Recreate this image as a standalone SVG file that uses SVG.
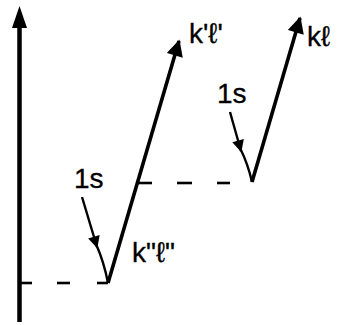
<svg xmlns="http://www.w3.org/2000/svg" width="339" height="325" viewBox="0 0 339 325">
<style>
.lbl{font-family:"Liberation Sans",Arial,sans-serif;font-size:28px;fill:#000;stroke:#000;stroke-width:0.3}
.v{stroke:#000;stroke-width:3.6;fill:none;stroke-linecap:butt}
.s{stroke:#000;stroke-width:2.4;fill:none}
.d{stroke:#000;stroke-width:2.6}
</style>
<defs>
<marker id="ah" viewBox="0 0 10 10" refX="9" refY="5" markerWidth="5.2" markerHeight="4.6" markerUnits="strokeWidth" orient="auto">
<path d="M0,0 L10,5 L0,10 Z" fill="#000"/>
</marker>
<marker id="ahs" viewBox="0 0 10 10" refX="9" refY="5" markerWidth="7" markerHeight="5" markerUnits="strokeWidth" orient="auto">
<path d="M0,0 L10,5 L0,10 Z" fill="#000"/>
</marker>
</defs>
<g id="axis">
<line x1="19.5" y1="322" x2="19.5" y2="26" stroke="#000" stroke-width="4.5"/>
<polygon points="19.5,6 12,28 27,28" fill="#000"/>
</g>
<g id="connectors">
<g id="levels">
<line class="d" x1="20" y1="283" x2="32" y2="283"/>
<line class="d" x1="57" y1="283" x2="70" y2="283"/>
<line class="d" x1="97" y1="283" x2="108" y2="283"/>
<line class="d" x1="137" y1="183" x2="152" y2="183"/>
<line class="d" x1="177" y1="183" x2="192" y2="183"/>
<line class="d" x1="217" y1="183" x2="230" y2="183"/>
</g>
<line id="lowerV" class="v" x1="108" y1="283" x2="179" y2="41" marker-end="url(#ah)"/>
<line id="upperV" class="v" x1="252" y1="182" x2="300" y2="18" marker-end="url(#ah)"/>
<line class="s" x1="82" y1="197" x2="97" y2="247" marker-end="url(#ahs)"/>
<path class="s" d="M96,244 Q104,262 108,283"/>
<line class="s" x1="230" y1="112" x2="241" y2="151" marker-end="url(#ahs)"/>
<path class="s" d="M240,148 Q248,164 252,182"/>
</g>
<g id="labels">
<text class="lbl" x="74" y="188" font-size="26">1s</text>
<text class="lbl" x="217" y="103" font-size="26">1s</text>
<text class="lbl" x="189" y="43">k'ℓ'</text>
<text class="lbl" x="132" y="262">k"ℓ"</text>
<text class="lbl" x="307" y="46">kℓ</text>
</g>
</svg>
